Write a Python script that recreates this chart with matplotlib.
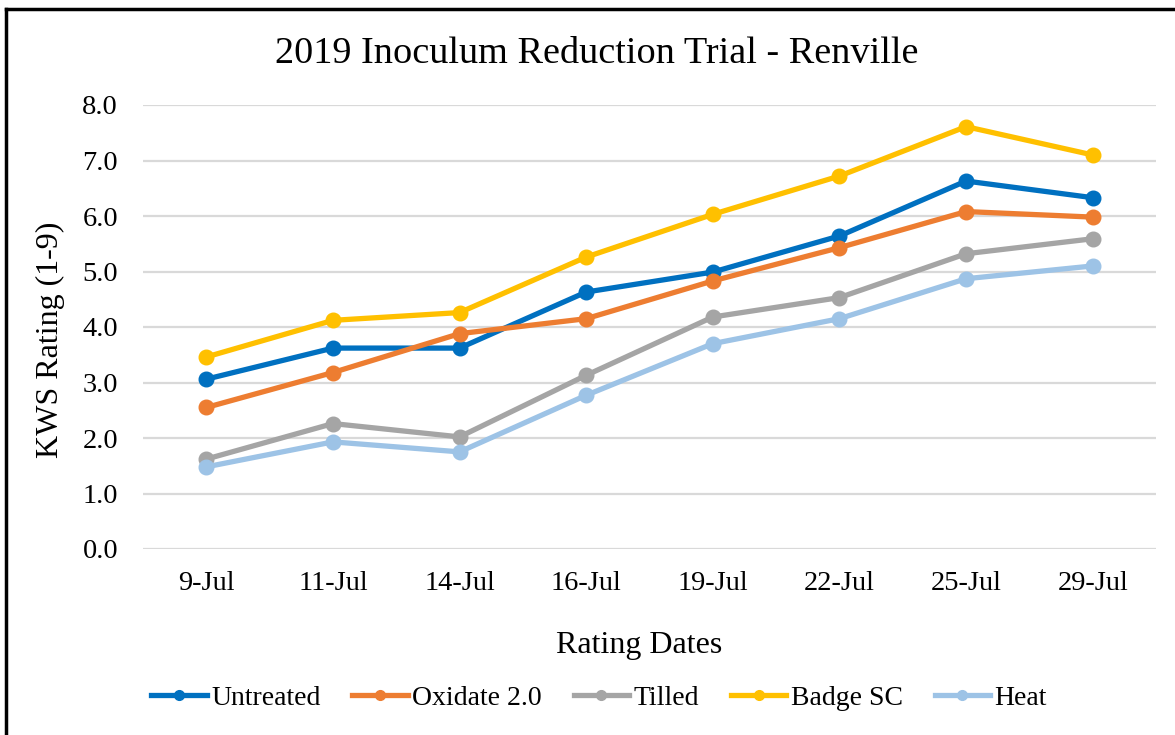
import matplotlib
matplotlib.use("Agg")
import matplotlib.pyplot as plt
from matplotlib.lines import Line2D

dates = ["9-Jul", "11-Jul", "14-Jul", "16-Jul", "19-Jul", "22-Jul", "25-Jul", "29-Jul"]
untreated = [3.06, 3.62, 3.62, 4.63, 4.99, 5.64, 6.63, 6.33]
oxidate = [2.55, 3.18, 3.88, 4.15, 4.83, 5.43, 6.08, 5.98]
tilled = [1.62, 2.26, 2.02, 3.13, 4.18, 4.53, 5.32, 5.59]
badge = [3.46, 4.12, 4.26, 5.26, 6.03, 6.72, 7.61, 7.10]
heat = [1.48, 1.93, 1.75, 2.77, 3.70, 4.15, 4.87, 5.10]
series_names = ["Untreated", "Oxidate 2.0", "Tilled", "Badge SC", "Heat"]
yticks = [0, 1, 2, 3, 4, 5, 6, 7, 8]

colors = ["#0070C0", "#ED7D31", "#A5A5A5", "#FFC000", "#9DC3E6"]
series = [untreated, oxidate, tilled, badge, heat]

plt.rcParams['font.family'] = ['Liberation Serif', 'DejaVu Serif']

fig = plt.figure(figsize=(11.75, 7.35), dpi=100)
ax = fig.add_axes([143/1175, 1-549/735, (1156-143)/1175, (549-105)/735])

x = list(range(len(dates)))
for name, vals, c in zip(series_names, series, colors):
    ax.plot(x, vals, color=c, lw=3.8, marker='o', markersize=10.5, label=name,
            solid_capstyle='round', zorder=3)

ax.set_xlim(-0.5, len(dates) - 0.5)
ax.set_ylim(0, 8)
ax.set_yticks(yticks)
ax.set_yticklabels([f"{v:.1f}" for v in yticks], fontsize=20.5)
ax.set_xticks(x)
ax.set_xticklabels(dates, fontsize=20.5)
ax.tick_params(axis='both', length=0)
ax.tick_params(axis='y', pad=18)
ax.tick_params(axis='x', pad=16)
ax.grid(axis='y', color='#D9D9D9', lw=1.6, zorder=0)
ax.set_axisbelow(True)
for s in ax.spines.values():
    s.set_visible(False)

fig.text(597/1175, 1-54/735, "2019 Inoculum Reduction Trial - Renville", fontsize=27.5,
         ha='center', va='center')
fig.text(50/1175, 1-340/735, "KWS Rating (1-9)", fontsize=23, rotation=90,
         ha='center', va='center')
fig.text(639/1175, 1-645/735, "Rating Dates", fontsize=23, ha='center', va='center')

handles = [Line2D([0], [0], color=c, lw=3.8, marker='o', markersize=7) for c in colors]
fig.legend(handles, series_names, loc='center', bbox_to_anchor=(599/1175, 1-698/735),
           ncol=5, frameon=False, fontsize=20, handlelength=2.0, handletextpad=0.15,
           columnspacing=1.15)

# border lines (top and left)
fig.add_artist(Line2D([6/1175, 1], [1-9/735, 1-9/735], color='black', lw=2.5,
                      transform=fig.transFigure))
fig.add_artist(Line2D([6/1175, 6/1175], [0, 1-9/735], color='black', lw=2.5,
                      transform=fig.transFigure))

fig.savefig("out.png", dpi=100)
